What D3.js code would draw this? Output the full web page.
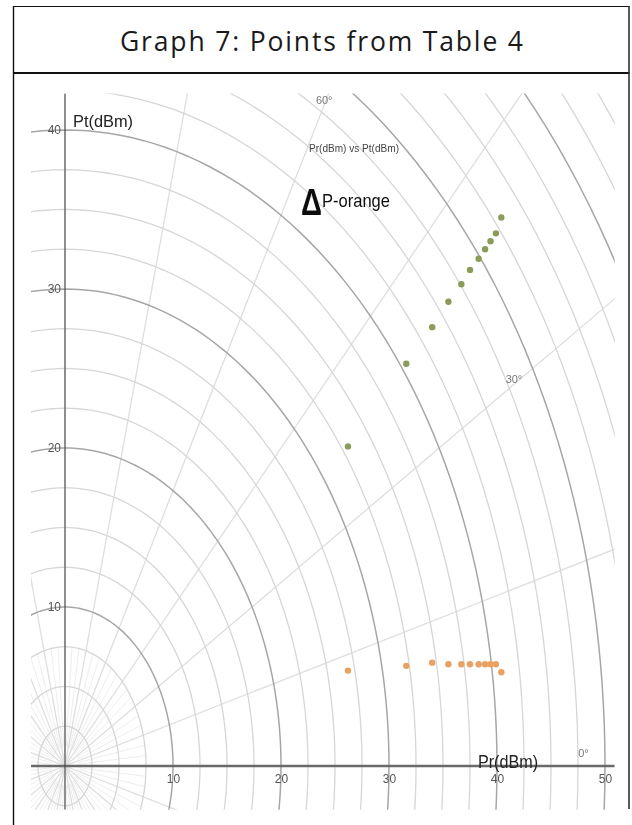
<!DOCTYPE html>
<html>
<head>
<meta charset="utf-8">
<script src="https://cdn.jsdelivr.net/npm/d3@7"></script>
<style>
  body { margin: 0; background: #fff; }
  svg { display: block; }
</style>
</head>
<body>
<svg id="chart" width="632" height="825"></svg>
<script>
// ---- data ----
const titleText = "Graph 7: Points from Table 4";
const prValues    = [26.2, 31.6, 34.0, 35.5, 36.7, 37.5, 38.3, 38.9, 39.4, 39.9, 40.4]; // Pr (dBm)
const ptValues    = [20.1, 25.3, 27.6, 29.2, 30.3, 31.2, 31.9, 32.5, 33.0, 33.5, 34.5]; // Pt (dBm)
const deltaValues = [6.0, 6.3, 6.5, 6.4, 6.4, 6.4, 6.4, 6.4, 6.4, 6.4, 5.9];            // ΔP
const xTicks = [10, 20, 30, 40, 50];
const yTicks = [10, 20, 30, 40];
const angleTicks = [0, 30, 60];
const angleText = ["0°", "30°", "60°"];
const xView = [-3.15, 50.9];   // visible data window
const yView = [-2.75, 42.3];

// ---- scales ----
const x = d3.scaleLinear().domain([0, 50]).range([65, 605]);
const y = d3.scaleLinear().domain([0, 40]).range([766, 130]);
const rad = d => d * Math.PI / 180;

const svg = d3.select("#chart");

// frame with title cell
svg.append("rect").attr("x", 0).attr("y", 0).attr("width", 632).attr("height", 825).attr("fill", "#fff");
svg.append("line").attr("x1", 13).attr("x2", 629.5).attr("y1", 6.5).attr("y2", 6.5).attr("stroke", "#111").attr("stroke-width", 1.2);
svg.append("line").attr("x1", 13).attr("x2", 629.5).attr("y1", 73).attr("y2", 73).attr("stroke", "#111").attr("stroke-width", 2);
svg.append("line").attr("x1", 13.5).attr("x2", 13.5).attr("y1", 6).attr("y2", 825).attr("stroke", "#111").attr("stroke-width", 1.4);
svg.append("line").attr("x1", 629).attr("x2", 629).attr("y1", 6).attr("y2", 809).attr("stroke", "#333").attr("stroke-width", 1.6);

svg.append("text")
  .attr("x", 321.5).attr("y", 51)
  .attr("text-anchor", "middle")
  .attr("font-family", "'Open Sans', sans-serif")
  .attr("font-size", 26.5)
  .attr("fill", "#1a1a1a")
  .attr("textLength", 403).attr("lengthAdjust", "spacing")
  .text(titleText);

// ---- polar plot ----
const defs = svg.append("defs");
defs.append("clipPath").attr("id", "plotClip")
  .append("rect")
  .attr("x", x(xView[0])).attr("y", y(yView[1]))
  .attr("width", x(xView[1]) - x(xView[0]))
  .attr("height", y(yView[0]) - y(yView[1]));
defs.append("filter").attr("id", "soft")
  .attr("x", "-5%").attr("y", "-5%").attr("width", "110%").attr("height", "110%")
  .append("feGaussianBlur").attr("stdDeviation", 0.45);

const plot = svg.append("g").attr("filter", "url(#soft)");
const grid = plot.append("g").attr("clip-path", "url(#plotClip)");

// concentric circles every 2.5, heavier every 10
const radii = d3.range(2.5, 70.1, 2.5);
const ring = r => d3.line()
  .x(a => x(r * Math.cos(rad(a))))
  .y(a => y(r * Math.sin(rad(a))))
  .curve(d3.curveLinearClosed)(d3.range(0, 360, 1.5));

// fine spokes near the pole
grid.selectAll("line.fine")
  .data(d3.range(0, 360, 5).filter(a => a % 15 !== 0))
  .join("line")
  .attr("x1", a => x(1.2 * Math.cos(rad(a)))).attr("y1", a => y(1.2 * Math.sin(rad(a))))
  .attr("x2", a => x(7.5 * Math.cos(rad(a))))
  .attr("y2", a => y(7.5 * Math.sin(rad(a))))
  .attr("stroke", "#ededed").attr("stroke-width", 1);

// spokes every 15°
grid.selectAll("line.spoke")
  .data(d3.range(0, 360, 15))
  .join("line")
  .attr("x1", x(0)).attr("y1", y(0))
  .attr("x2", a => x(80 * Math.cos(rad(a))))
  .attr("y2", a => y(80 * Math.sin(rad(a))))
  .attr("stroke", "#dedede").attr("stroke-width", 1.3);

grid.selectAll("path.ring")
  .data(radii)
  .join("path")
  .attr("d", ring)
  .attr("fill", "none")
  .attr("stroke", r => r % 10 === 0 ? "#a6a6a6" : "#d6d6d6")
  .attr("stroke-width", r => r % 10 === 0 ? 1.5 : 1.3);

// axes lines
grid.append("line")
  .attr("x1", x(xView[0])).attr("x2", x(xView[1]))
  .attr("y1", y(0)).attr("y2", y(0))
  .attr("stroke", "#6a6a6a").attr("stroke-width", 2.6);
grid.append("line")
  .attr("x1", x(0)).attr("x2", x(0))
  .attr("y1", y(yView[0])).attr("y2", y(yView[1]))
  .attr("stroke", "#444").attr("stroke-width", 1.1);

// tick labels via d3 axes
const tickFont = "'Liberation Sans Narrow', 'Liberation Sans', sans-serif";
const xAxis = plot.append("g")
  .attr("transform", `translate(0,${y(0)})`)
  .call(d3.axisBottom(x).tickValues(xTicks).tickSize(0).tickPadding(8));
const yAxis = plot.append("g")
  .attr("transform", `translate(${x(0)},0)`)
  .call(d3.axisLeft(y).tickValues(yTicks).tickSize(0).tickPadding(4));
[xAxis, yAxis].forEach(g => {
  g.select(".domain").remove();
  g.selectAll("text").attr("font-family", tickFont).attr("font-size", 12).attr("fill", "#555");
});

// angle labels
plot.selectAll("text.ang")
  .data(angleTicks)
  .join("text")
  .attr("x", a => x(48 * Math.cos(rad(a))))
  .attr("y", a => y(48 * Math.sin(rad(a))) + (a === 0 ? -13 : -5))
  .attr("text-anchor", "middle")
  .attr("dominant-baseline", "central")
  .attr("font-family", tickFont).attr("font-size", 11)
  .attr("fill", "#777")
  .text((a, i) => angleText[i]);

// axis titles and annotations
plot.append("text").attr("x", 73).attr("y", 127)
  .attr("font-family", "'Liberation Sans', Arial, sans-serif").attr("font-size", 17)
  .attr("fill", "#222").attr("textLength", 60).attr("lengthAdjust", "spacingAndGlyphs")
  .text("Pt(dBm)");
plot.append("text").attr("x", 478).attr("y", 768)
  .attr("font-family", "'Liberation Sans', Arial, sans-serif").attr("font-size", 18)
  .attr("fill", "#222").attr("textLength", 60).attr("lengthAdjust", "spacingAndGlyphs")
  .text("Pr(dBm)");
plot.append("text").attr("x", 309).attr("y", 152)
  .attr("font-family", "'Liberation Sans', Arial, sans-serif").attr("font-size", 11.5)
  .attr("fill", "#444").attr("textLength", 90).attr("lengthAdjust", "spacingAndGlyphs")
  .text("Pr(dBm) vs Pt(dBm)");
plot.append("text").attr("x", 301).attr("y", 215)
  .attr("font-family", "'Liberation Sans', Arial, sans-serif").attr("font-size", 36)
  .attr("font-weight", "bold").attr("fill", "#111")
  .attr("textLength", 21).attr("lengthAdjust", "spacingAndGlyphs")
  .text("Δ");
plot.append("text").attr("x", 322).attr("y", 207)
  .attr("font-family", "'Liberation Sans', Arial, sans-serif").attr("font-size", 19)
  .attr("fill", "#111").attr("textLength", 68).attr("lengthAdjust", "spacingAndGlyphs")
  .text("P-orange");

// data points
const pts = plot.append("g");
pts.selectAll("circle.pt")
  .data(d3.zip(prValues, ptValues))
  .join("circle")
  .attr("cx", d => x(d[0])).attr("cy", d => y(d[1]))
  .attr("r", 3.2)
  .attr("fill", "#8a9c58");
pts.selectAll("circle.dp")
  .data(d3.zip(prValues, deltaValues))
  .join("circle")
  .attr("cx", d => x(d[0])).attr("cy", d => y(d[1]))
  .attr("r", 3.2)
  .attr("fill", "#eaa061");
</script>
</body>
</html>
